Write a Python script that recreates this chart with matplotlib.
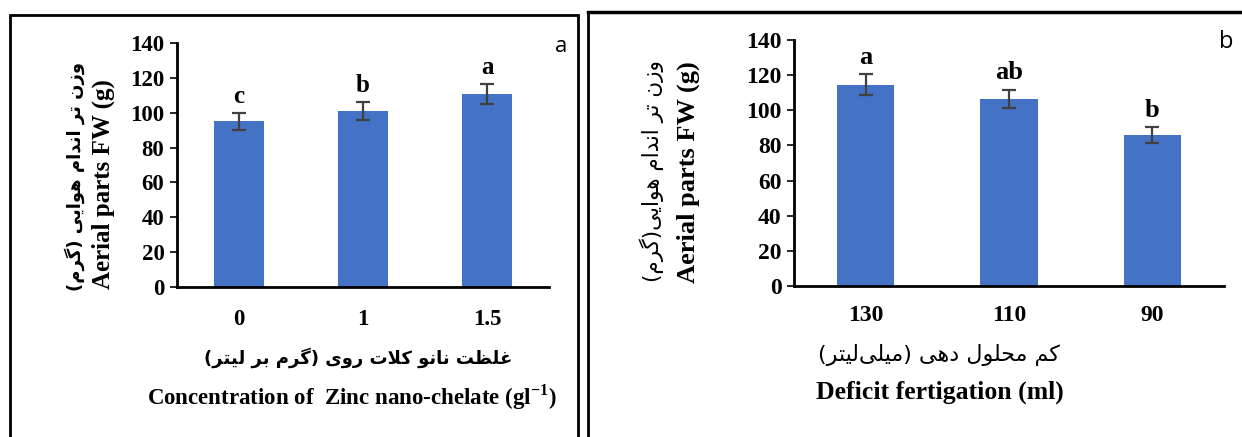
import matplotlib
matplotlib.use("Agg")
import matplotlib.pyplot as plt
from matplotlib.patches import Rectangle
from matplotlib.lines import Line2D

# ---- data ----
zinc_levels = ["0", "1", "1.5"]
zinc_fw = [95, 101, 110.5]
zinc_err = [4.8, 5.0, 5.7]
zinc_letters = ["c", "b", "a"]

fert_levels = ["130", "110", "90"]
fert_fw = [114.5, 106.5, 86]
fert_err = [6.0, 5.2, 4.6]
fert_letters = ["a", "ab", "b"]

yticks = [0, 20, 40, 60, 80, 100, 120, 140]

fa_ylabel_a = "وزن تر اندام هوایی (گرم)"
fa_ylabel_b = "وزن تر اندام هوایی(گرم)"
en_ylabel = "Aerial parts FW (g)"
fa_xlabel_a = "غلظت نانو کلات روی (گرم بر لیتر)"
en_xlabel_a = r"Concentration of  Zinc nano-chelate (gl$^{\mathbf{-1}}$)"
fa_xlabel_b = "کم محلول دهی (میلی\u200cلیتر)"
en_xlabel_b = "Deficit fertigation (ml)"

BLUE = "#4472C4"

plt.rcParams["mathtext.fontset"] = "custom"
plt.rcParams["mathtext.bf"] = "Liberation Serif:bold"
plt.rcParams["mathtext.rm"] = "Liberation Serif"

# small arabic-script shaper (matplotlib has no text shaping)
# letter: (isolated, final, initial, medial); None = does not join forward
FORMS = {
    "\u0627": ("\uFE8D", "\uFE8E", None, None),
    "\u0628": ("\uFE8F", "\uFE90", "\uFE91", "\uFE92"),
    "\u062A": ("\uFE95", "\uFE96", "\uFE97", "\uFE98"),
    "\u062D": ("\uFEA1", "\uFEA2", "\uFEA3", "\uFEA4"),
    "\u062F": ("\uFEA9", "\uFEAA", None, None),
    "\u0631": ("\uFEAD", "\uFEAE", None, None),
    "\u0632": ("\uFEAF", "\uFEB0", None, None),
    "\u0638": ("\uFEC5", "\uFEC6", "\uFEC7", "\uFEC8"),
    "\u063A": ("\uFECD", "\uFECE", "\uFECF", "\uFED0"),
    "\u0644": ("\uFEDD", "\uFEDE", "\uFEDF", "\uFEE0"),
    "\u0645": ("\uFEE1", "\uFEE2", "\uFEE3", "\uFEE4"),
    "\u0646": ("\uFEE5", "\uFEE6", "\uFEE7", "\uFEE8"),
    "\u0647": ("\uFEE9", "\uFEEA", "\uFEEB", "\uFEEC"),
    "\u0648": ("\uFEED", "\uFEEE", None, None),
    "\u06A9": ("\uFB8E", "\uFB8F", "\uFB90", "\uFB91"),
    "\u06AF": ("\uFB92", "\uFB93", "\uFB94", "\uFB95"),
    "\u06CC": ("\uFBFC", "\uFBFD", "\uFBFE", "\uFBFF"),
}
MIRROR = {"(": ")", ")": "("}


def shape(s):
    out = []
    i = 0
    n = len(s)
    while i < n:
        c = s[i]
        if c not in FORMS:
            if c != "\u200c":
                out.append(MIRROR.get(c, c))
            i += 1
            continue
        prev = s[i - 1] if i > 0 else ""
        prev_j = prev in FORMS and FORMS[prev][2] is not None
        if c == "\u0644" and i + 1 < n and s[i + 1] == "\u0627":
            out.append("\uFEFC" if prev_j else "\uFEFB")
            i += 2
            continue
        nxt = s[i + 1] if i + 1 < n else ""
        next_j = FORMS[c][2] is not None and nxt in FORMS
        iso, fin, ini, med = FORMS[c]
        if prev_j and next_j:
            out.append(med)
        elif prev_j:
            out.append(fin)
        elif next_j:
            out.append(ini)
        else:
            out.append(iso)
        i += 1
    return "".join(out[::-1])


serif = "Liberation Serif"
fa_font = "DejaVu Sans"

fig = plt.figure(figsize=(12.42, 4.37), dpi=100)
W, H = 1242.0, 437.0


def px(x, y):
    return x / W, 1 - y / H


def bar_panel(rect, cats, vals, errs, letters, tick_fs, let_fs, pad):
    ax = fig.add_axes(rect)
    x = list(range(len(cats)))
    ax.bar(x, vals, width=0.4, color=BLUE, zorder=2)
    ax.errorbar(x, vals, yerr=errs, fmt="none", ecolor="#404040",
                elinewidth=1.6, capsize=5, capthick=1.6, zorder=3)
    for xi, v, e, l in zip(x, vals, errs, letters):
        ax.text(xi, v + e + 3, l, ha="center", va="bottom",
                family=serif, weight="bold", fontsize=let_fs)
    ax.set_xlim(-0.5, len(cats) - 0.5)
    ax.set_ylim(0, 140)
    ax.set_yticks(yticks)
    ax.set_xticks(x)
    ax.set_xticklabels(cats)
    for sp in ["top", "right"]:
        ax.spines[sp].set_visible(False)
    for sp in ["left", "bottom"]:
        ax.spines[sp].set_linewidth(2)
    ax.tick_params(axis="y", length=5, width=1.2, labelsize=tick_fs, pad=4)
    ax.tick_params(axis="x", length=0, labelsize=tick_fs, pad=pad)
    for t in ax.get_xticklabels() + ax.get_yticklabels():
        t.set_family(serif)
        t.set_weight("bold")
    return ax


# left panel
x0, y1 = px(177, 43)
x1, y0 = px(549, 287)
bar_panel([x0, y0, x1 - x0, y1 - y0], zinc_levels, zinc_fw, zinc_err,
          zinc_letters, 16.5, 18, 16)

# right panel
x0, y1 = px(794, 40)
x1, y0 = px(1224, 286)
bar_panel([x0, y0, x1 - x0, y1 - y0], fert_levels, fert_fw, fert_err,
          fert_letters, 17, 19, 14)

# labels - left
fig.text(*px(75, 177), shape(fa_ylabel_a), rotation=90, ha="center",
         va="center", family=fa_font, weight="bold", fontsize=13)
fig.text(*px(103.5, 184), en_ylabel, rotation=90, ha="center", va="center",
         family=serif, weight="bold", fontsize=18)
fig.text(*px(358, 358), shape(fa_xlabel_a), ha="center", va="center",
         family=fa_font, weight="bold", fontsize=13)
fig.text(*px(352, 397), en_xlabel_a, ha="center", va="center",
         family=serif, weight="bold", fontsize=16.5)
fig.text(*px(561, 47), "a", ha="center", va="center",
         family="Open Sans", fontsize=16)

# labels - right
fig.text(*px(652, 171), shape(fa_ylabel_b), rotation=90, ha="center",
         va="center", family=fa_font, fontsize=15.5)
fig.text(*px(688, 172), en_ylabel, rotation=90, ha="center", va="center",
         family=serif, weight="bold", fontsize=19)
fig.text(*px(939, 355), shape(fa_xlabel_b), ha="center", va="center",
         family=fa_font, fontsize=16)
fig.text(*px(940, 392), en_xlabel_b, ha="center", va="center",
         family=serif, weight="bold", fontsize=18.5)
fig.text(*px(1226, 42), "b", ha="center", va="center",
         family="Open Sans", fontsize=17)

# panel frames
fig.add_artist(Rectangle(px(9.5, 470), (578 - 9.5) / W, (470 - 15) / H,
                         transform=fig.transFigure, fill=False,
                         edgecolor="black", linewidth=2))
fig.add_artist(Line2D([px(588, 0)[0], 1.0], [px(0, 12)[1]] * 2,
                      transform=fig.transFigure, color="black", linewidth=2.5))
fig.add_artist(Line2D([px(588, 0)[0]] * 2, [px(0, 12)[1], 0],
                      transform=fig.transFigure, color="black", linewidth=2))

fig.savefig("out.png", dpi=100)
